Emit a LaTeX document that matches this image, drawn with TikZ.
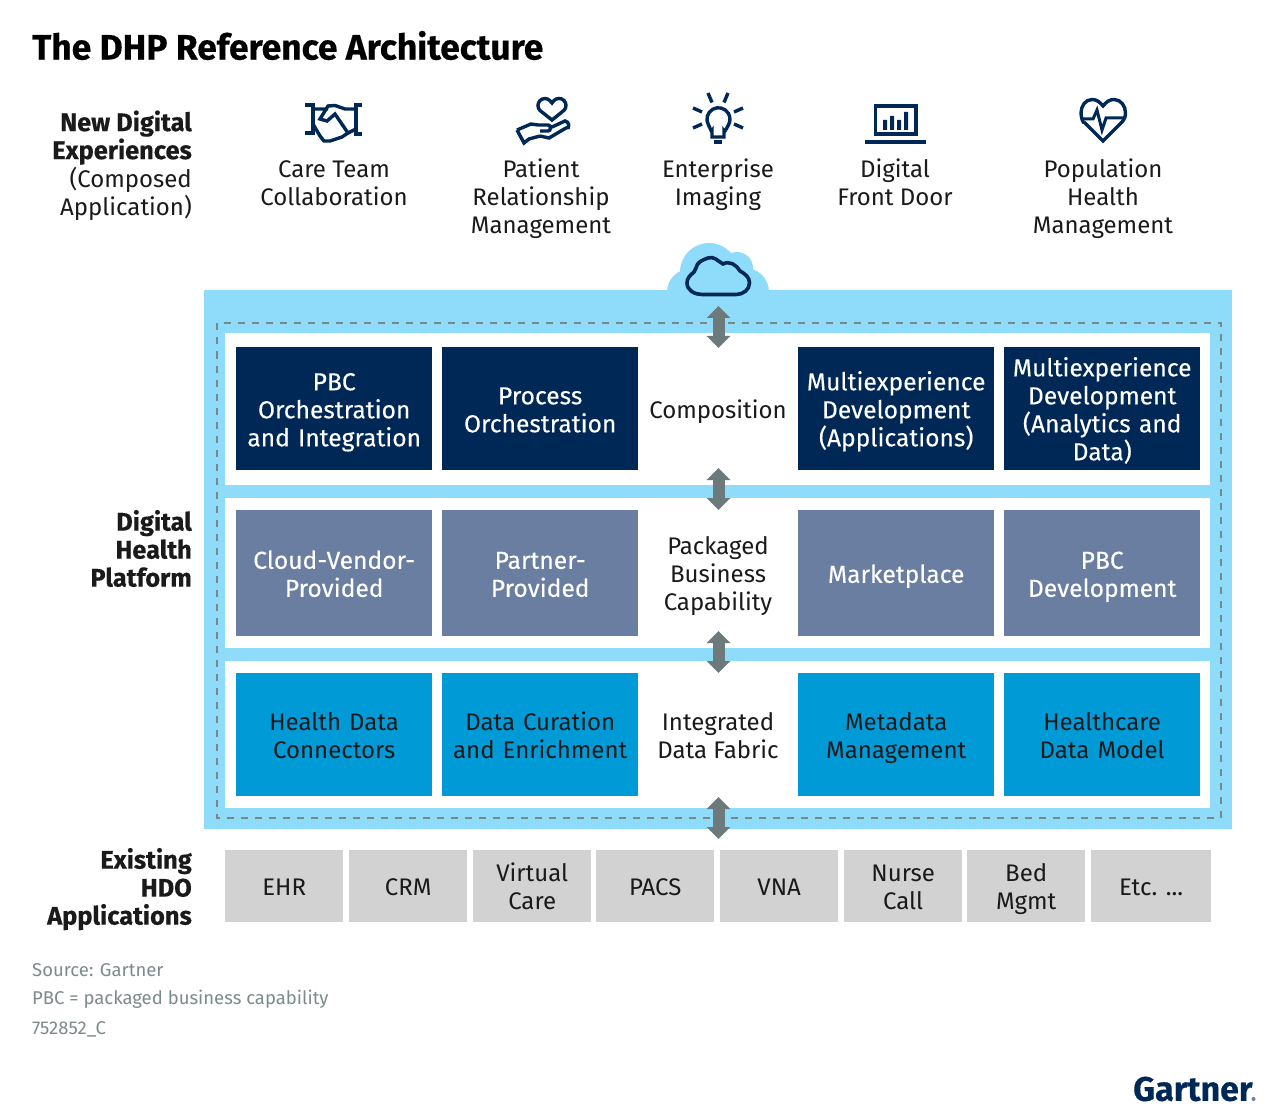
\documentclass[tikz,border=0pt]{standalone}
\usepackage{fontspec}
\setmainfont{Fira Sans}
\newfontfamily\heavyfont[UprightFont=* Bold,FakeBold=0.35]{Fira Sans}
\newfontfamily\medfont[FakeBold=0.2]{Fira Sans}
\usetikzlibrary{arrows.meta,calc}
\definecolor{navy}{HTML}{002856}
\definecolor{slate}{HTML}{6A7EA1}
\definecolor{midblue}{HTML}{009AD7}
\definecolor{skyb}{HTML}{8FDBFA}
\definecolor{graybox}{HTML}{D2D2D2}
\definecolor{arrowgray}{HTML}{6C7A7C}
\definecolor{foot}{HTML}{7F8A8C}
\definecolor{ink}{HTML}{1A1A1A}
\newcommand{\sidebf}{\heavyfont\fontsize{25.4}{28}\selectfont}
\newcommand{\tb}[1]{\rule{0pt}{19.6pt}#1\rule[-8.4pt]{0pt}{8.4pt}}
\newcommand{\lb}[1]{\rule{0pt}{27.6pt}#1\rule[-8.4pt]{0pt}{8.4pt}}
\tikzset{
 x=1pt,y=-1pt,
 txt/.style={font=\fontsize{24}{28}\selectfont,align=center,text=ink,inner sep=0pt},
 sidelabel/.style={font=\fontsize{24}{28}\selectfont,align=right,text=ink,anchor=east,inner sep=0pt},
 bbox/.style={font=\fontsize{24}{28}\selectfont,align=center,inner sep=0pt,minimum width=196pt,anchor=north west,text width=190pt},
 darkbox/.style={bbox,fill=navy,text=white,minimum height=123pt,font=\medfont\fontsize{24.6}{28}\selectfont},
 slatebox/.style={bbox,fill=slate,text=white,minimum height=126pt,font=\medfont\fontsize{24.6}{28}\selectfont},
 bluebox/.style={bbox,fill=midblue,text=ink,minimum height=123pt},
 appbox/.style={font=\fontsize{24}{28}\selectfont,align=center,text=ink,fill=graybox,inner sep=0pt,minimum width=118pt,minimum height=72pt,anchor=north west},
 link/.style={draw=arrowgray,line width=12pt,{Triangle[width=23pt,length=12pt]}-{Triangle[width=23pt,length=12pt]},shorten >=0pt,shorten <=0pt},
 icon/.style={draw=navy,line width=3.4pt,line join=miter,fill=none},
 foottext/.style={font=\fontsize{18.5}{22}\selectfont,text=foot,anchor=west,inner sep=0pt},
}
\begin{document}
\begin{tikzpicture}
\useasboundingbox (0,0) rectangle (1280,1115);
\fill[white] (0,0) rectangle (1280,1115);
\node[anchor=west,inner sep=0pt,font=\heavyfont\fontsize{35.4}{38}\selectfont,text=black] (title) at (32,45.5) {The DHP Reference Architecture};
% side labels
\node[sidelabel] (newdx) at (192,167) {\tb{{\sidebf New Digital}\\{\sidebf Experiences}\\(Composed\\Application)}};
\node[sidelabel] (dhp) at (192,552.5) {\tb{{\sidebf Digital}\\{\sidebf Health}\\{\sidebf Platform}}};
\node[sidelabel] (hdo) at (192,890.5) {\tb{{\sidebf Existing}\\{\sidebf HDO}\\{\sidebf Applications}}};
% experiences
\node[txt,anchor=north] (e1) at (334,158) {\tb{Care Team\\Collaboration}};
\node[txt,anchor=north] (e2) at (541,158) {\tb{Patient\\Relationship\\Management}};
\node[txt,anchor=north] (e3) at (718,158) {\tb{Enterprise\\Imaging}};
\node[txt,anchor=north] (e4) at (895,158) {\tb{Digital\\Front Door}};
\node[txt,anchor=north] (e5) at (1103,158) {\tb{Population\\Health\\Management}};
% icons
% handshake
\draw[icon] (305,105)--(313,105)--(313,133)--(305,133);
\draw[icon] (362,105)--(356,105)--(356,134)--(362,134);
\draw[icon] (313,109)--(328,109) (356,109)--(345,109)--(335,105.5)--(328,106)--(320,119)--(327,121)--(335,114)--(348,133)--(342,137)--(330,141)--(324,141)--(320,136)--(313,124);
\draw[icon] (348,133)--(356,129);
% hand with heart
\draw[icon] (552,120)--(540,110.5) arc[start angle=-225,end angle=-45,radius=7] --(552,103)--(554.05,100.5) arc[start angle=-135,end angle=45,radius=7]--cycle;
\draw[icon] (517,130)--(531,124)--(538,125)--(548,125) to[out=0,in=0,looseness=1.4] (548,131)--(540,131) (540,136)--(549,138)--(566,128) to[out=-20,in=0,looseness=1.6] (565,121)--(552,127);
\draw[icon] (517,130)--(524,143)--(529,139)--(540,136);
% bulb
\draw[icon] (712,137)--(712,131) to[out=-90,in=-60] (708.5,125) arc[start angle=-210,end angle=30,radius=11.5] to[out=-120,in=-90] (724,131)--(724,137)--cycle;
\draw[icon,line width=4pt] (714,142.5)--(722,142.5);
\draw[icon] (708,93)--(712,102.5) (728,93)--(724,102.5) (693,108)--(702,112) (743,108)--(734,112) (693,128)--(702,124) (743,128)--(734,124);
% laptop
\draw[icon] (875.5,106)--(916,106)--(916,134)--(875.5,134)--cycle;
\fill[navy] (865,140) rectangle (926,144);
\fill[navy] (883,120) rectangle (887,130) (890,116) rectangle (894,130) (897,120) rectangle (901,130) (904,112) rectangle (908,130);
% heart
\draw[icon] (1084,121) to[out=-110,in=-90] (1081,113) to[out=90,in=180] (1092,99.5) to[out=0,in=130] (1103,106) to[out=50,in=180] (1114,99.5) to[out=0,in=90] (1125.5,113) to[out=-90,in=50] (1122,122)--(1103,141)--(1084,122);
\draw[draw=navy,line width=3pt,line join=miter,fill=none] (1082,119)--(1093,119)--(1097,110)--(1102,130)--(1106,118)--(1124,118);
% platform
\coordinate (cl) at (718,290);
\fill[skyb] (690,292) circle (23) (709,272) circle (29) (737,268) circle (16) (745,292) circle (24);
\node[inner sep=0pt,fill=skyb,minimum width=1028pt,minimum height=539pt,anchor=north west] (outer) at (204,290) {};
\draw[draw=navy,line width=3.6pt,fill=none,line cap=round] (702,294.5)--(736,294.5) to[out=0,in=-90] (749.5,283) to[out=90,in=-30] (740,271) to[out=120,in=30] (723,264) to[out=150,in=20] (708,258) to[out=200,in=80] (696,268) to[out=-100,in=70] (694,272) to[out=-140,in=90] (687,283) to[out=-90,in=180] (702,294.5);
\draw[draw=arrowgray!90!white,line width=2pt,dash pattern=on 7pt off 7pt] (216.5,323.5) rectangle (1220.5,817.5);
\node[inner sep=0pt,fill=white,minimum width=985pt,minimum height=152pt,anchor=north west] (p1) at (225,333) {};
\node[inner sep=0pt,fill=white,minimum width=985pt,minimum height=150pt,anchor=north west] (p2) at (225,498) {};
\node[inner sep=0pt,fill=white,minimum width=985pt,minimum height=147pt,anchor=north west] (p3) at (225,661) {};
% row 1
\node[darkbox] (a1) at (236,347) {\lb{PBC\\Orchestration\\and Integration}};
\node[darkbox] (a2) at (442,347) {\lb{Process\\Orchestration}};
\node[txt] (a3) at (718,413) {\tb{Composition}};
\node[darkbox] (a4) at (798,347) {\lb{Multiexperience\\Development\\(Applications)}};
\node[darkbox] (a5) at (1004,347) {\lb{Multiexperience\\Development\\(Analytics and\\Data)}};
% row 2
\node[slatebox] (b1) at (236,510) {\lb{Cloud-Vendor-\\Provided}};
\node[slatebox] (b2) at (442,510) {\lb{Partner-\\Provided}};
\node[txt] (b3) at (718,577) {\tb{Packaged\\Business\\Capability}};
\node[slatebox] (b4) at (798,510) {\lb{Marketplace}};
\node[slatebox] (b5) at (1004,510) {\lb{PBC\\Development}};
% row 3
\node[bluebox] (c1) at (236,673) {\lb{Health Data\\Connectors}};
\node[bluebox] (c2) at (442,673) {\lb{Data Curation\\and Enrichment}};
\node[txt] (c3) at (718,739) {\tb{Integrated\\Data Fabric}};
\node[bluebox] (c4) at (798,673) {\lb{Metadata\\Management}};
\node[bluebox] (c5) at (1004,673) {\lb{Healthcare\\Data Model}};
% apps
\node[appbox] (d1) at (225,850) {\lb{EHR}};
\node[appbox] (d2) at (349,850) {\lb{CRM}};
\node[appbox] (d3) at (473,850) {\lb{Virtual\\Care}};
\node[appbox] (d4) at (596,850) {\lb{PACS}};
\node[appbox] (d5) at (720,850) {\lb{VNA}};
\node[appbox] (d6) at (844,850) {\lb{Nurse\\Call}};
\node[appbox] (d7) at (967,850) {\lb{Bed\\Mgmt}};
\node[appbox,minimum width=120pt] (d8) at (1091,850) {\lb{Etc. ...}};
% connectors
\coordinate (l1a) at (718.5,306); \coordinate (l1b) at (718.5,348);
\coordinate (l2a) at (718.5,468); \coordinate (l2b) at (718.5,510);
\coordinate (l3a) at (718.5,631); \coordinate (l3b) at (718.5,673);
\coordinate (l4a) at (718.5,797); \coordinate (l4b) at (718.5,839);
\draw[link] (l1a)--(l1b);
\draw[link] (l2a)--(l2b);
\draw[link] (l3a)--(l3b);
\draw[link] (l4a)--(l4b);
% footer
\node[foottext] (f1) at (32,970) {Source: Gartner};
\node[foottext] (f2) at (32,999) {PBC = packaged business capability};
\node[foottext] (f3) at (32,1029) {752852\_C};
\node[anchor=west,inner sep=0pt,font=\heavyfont\fontsize{34}{40}\selectfont,text=navy] (logo) at (1133,1089) {Gartner};
\fill[slate] (1253.5,1099) circle (2);
\end{tikzpicture}
\end{document}
